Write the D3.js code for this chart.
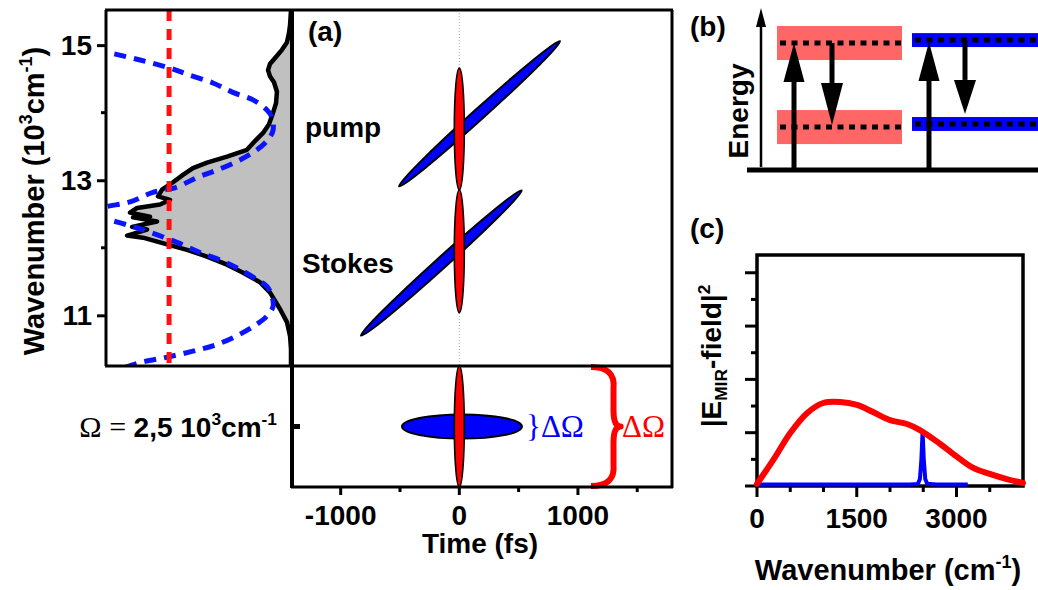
<!DOCTYPE html>
<html><head><meta charset="utf-8">
<script src="https://cdn.jsdelivr.net/npm/d3@7"></script>
<style>
html,body{margin:0;padding:0;background:#fff;}
svg{display:block;}
</style></head><body>
<svg id="c" width="1038" height="590"></svg>
<script>
// ---------------- DATA ----------------
// Left panel: laser spectrum (a.u., drawn leftwards) vs wavenumber (10^3 cm^-1)
const specWn = [15.52,15.30,15.18,15.04,14.93,14.81,14.72,14.63,14.54,14.45,14.31,14.14,14.00,13.83,13.70,13.58,13.45,13.35,13.26,13.18,13.08,12.96,12.86,12.76,12.71,12.64,12.59,12.52,12.46,12.45,12.39,12.31,12.27,12.18,12.15,12.05,11.97,11.87,11.75,11.63,11.49,11.34,11.09,10.90,10.69,10.50,10.25];
const specInt = [0,0.5,1.1,2.2,4.9,8.6,11.4,12.4,11.4,9.2,7.6,8.1,9.7,11.9,15.1,19.5,23.8,34.6,45.4,53.0,58.4,64.3,69.7,71.9,65.4,70.8,83.2,87.0,76.2,85.4,72.4,85.9,77.8,88.6,80.0,67.0,56.2,45.4,34.6,25.9,16.8,11.4,5.9,2.2,0.5,0,0];
// spectral phase (same horizontal axis): chirped pump / Stokes (blue), flat phase (red)
const pumpPhWn  = [14.94,14.90,14.78,14.66,14.57,14.44,14.30,14.19,14.04,13.93,13.74,13.60,13.45,13.30,13.15,13.04,12.90,12.82,12.68,12.61,12.56];
const pumpPhVal = [106,100,81.6,65.4,56.2,42.2,31.4,20.5,13.0,10.3,9.7,12.4,18.4,27.6,40.0,50.8,61.6,74.6,87.0,99.5,106];
const stokesPhWn  = [12.46,12.42,12.34,12.23,12.08,11.93,11.80,11.68,11.53,11.43,11.28,11.13,10.99,10.87,10.72,10.57,10.47,10.38,10.31,10.23];
const stokesPhVal = [106,99.5,88.6,76.2,61.6,49.2,36.8,27.6,18.4,13.0,10.3,9.7,13.0,18.4,27.6,40.0,53.0,67.0,80.0,89.7];
const flatPhVal = 65.9;
const wnTicks = [11, 13, 15];
const wnMinorTicks = [12, 14];

// Panel (a): time-frequency ellipses
const pulseLabels = ["pump", "Stokes"];
const chirpT0 = [-508, -829], chirpW0 = [12.91, 10.70];
const chirpT1 = [849, 526],   chirpW1 = [15.06, 12.85];
const tlCenterWn = [13.76, 11.95];
const tlHalfBand = [0.90, 0.91];
const timeTicks = [-1000, 0, 1000];
const timeMinorTicks = [-500, 500, 1500];
// MIR (difference frequency) row
const omegaMIR = 2.5;
const mirNarrowT = [-483, 528];
const mirNarrowBand = [2.0, 3.0];
const mirBroadBand = [0, 5];

// Panel (b): energy levels (a.u.)
const bandKinds = ["broad", "narrow"];
const levelLowE = [0.265, 0.284];
const levelHighE = [0.784, 0.802];
const bandHalfE = [0.105, 0.043];
const upArrowToE = [0.784, 0.790];
const downArrowFromE = [0.784, 0.802];
const downArrowToE = [0.278, 0.346];

// Panel (c): MIR spectra
const cWn = [0,250,500,755,995,1250,1505,1745,2000,2255,2450,2750,3005,3245,3500,3755,4000];
const cBroad = [0.012,0.15,0.298,0.411,0.467,0.473,0.456,0.416,0.371,0.349,0.315,0.238,0.165,0.103,0.068,0.039,0.017];
const cNarrowWn = [0,2300,2420,2450,2472,2490,2508,2530,2560,2700,3170];
const cNarrow = [0.008,0.008,0.012,0.04,0.15,0.306,0.15,0.04,0.012,0.008,0.008];
const cTicks = [0, 1500, 3000];
const cMinorTicks = [500, 1000, 2000, 2500, 3500];
const cYTicks = [0, 0.3, 0.6, 0.9, 1.2];
const cYMinor = [0.15, 0.45, 0.75, 1.05];

// ---------------- DRAW ----------------
const SANS = '"Liberation Sans", Arial, Helvetica, sans-serif';
const SERIF = '"Liberation Serif", "Times New Roman", Times, serif';
const FS = 28;
const svg = d3.select('#c');
svg.append('rect').attr('width',1038).attr('height',590).attr('fill','#fff');

function rich(sel, parts, size) {
  let shift = 0;
  parts.forEach(([t, type]) => {
    const target = type === 'sup' ? -0.40*size : type === 'sub' ? 0.22*size : 0;
    const ts = sel.append('tspan').text(t).attr('dy', target - shift);
    if (type) ts.attr('font-size', size*0.62);
    shift = target;
  });
}
function label(x, y, txt, opts={}) {
  const t = svg.append('text').attr('x', x).attr('y', y)
    .attr('font-family', opts.family || SANS)
    .attr('font-weight', opts.weight || 'bold')
    .attr('font-size', opts.size || FS)
    .attr('fill', opts.fill || '#000')
    .attr('text-anchor', opts.anchor || 'start');
  if (typeof txt === 'string') t.text(txt); else rich(t, txt, opts.size || FS);
  return t;
}

// scales
const wnY = d3.scaleLinear().domain([10.25, 15.52]).range([366, 10]);
const intX = d3.scaleLinear().domain([0, 100]).range([291, 106]);
const timeX = d3.scaleLinear().domain([-1402, 1793]).range([293, 672]);
const mirY = d3.scaleLinear().domain([0, 5]).range([487, 366]);
const cX = d3.scaleLinear().domain([0, 4000]).range([757, 1023]);
const cY = d3.scaleLinear().domain([0, 1.3]).range([486, 255]);
const eY = d3.scaleLinear().domain([0, 1]).range([170, 8]);
const bandX = d3.scaleBand().domain(bandKinds).range([777, 1037]).paddingInner(0.074);

const defs = svg.append('defs');
defs.append('clipPath').attr('id','clipL').append('rect')
  .attr('x',106).attr('y',10).attr('width',185).attr('height',356);
defs.append('clipPath').attr('id','clipA').append('rect')
  .attr('x',293).attr('y',10).attr('width',379).attr('height',477);

// ---- left spectrum panel ----
const gL = svg.append('g').attr('clip-path','url(#clipL)');
const spec = specWn.map((w,i)=>({w, v: specInt[i]}));
gL.append('path').datum(spec)
  .attr('d', d3.area().y(d=>wnY(d.w)).x0(intX(0)).x1(d=>intX(d.v)))
  .attr('fill','#c0c0c0');
gL.append('path').datum(spec)
  .attr('d', d3.line().y(d=>wnY(d.w)).x(d=>intX(d.v)))
  .attr('fill','none').attr('stroke','#000').attr('stroke-width',4.5).attr('stroke-linejoin','round');
const phLine = d3.line().y(d=>wnY(d.w)).x(d=>intX(d.v)).curve(d3.curveCatmullRom);
[[pumpPhWn,pumpPhVal],[stokesPhWn,stokesPhVal]].forEach(([ws,vs])=>{
  gL.append('path').datum(ws.map((w,i)=>({w, v: vs[i]})))
    .attr('d', phLine).attr('fill','none').attr('stroke','#0a14ff')
    .attr('stroke-width',5).attr('stroke-dasharray','12,8');
});
gL.append('line').attr('x1',intX(flatPhVal)).attr('x2',intX(flatPhVal))
  .attr('y1',wnY(15.52)).attr('y2',wnY(10.25))
  .attr('stroke','#ff1010').attr('stroke-width',5).attr('stroke-dasharray','11,8');

// left axis ticks
const axL = svg.append('g').attr('transform','translate(106,0)')
  .call(d3.axisLeft(wnY).tickValues(wnTicks).tickFormat(d3.format('d')).tickSize(9).tickPadding(5));
axL.select('.domain').remove();
axL.selectAll('line').attr('stroke-width',3);
axL.selectAll('text').attr('font-family',SANS).attr('font-weight','bold').attr('font-size',FS);
svg.append('g').selectAll('line').data(wnMinorTicks).join('line')
  .attr('x1',101).attr('x2',106).attr('y1',d=>wnY(d)).attr('y2',d=>wnY(d))
  .attr('stroke','#000').attr('stroke-width',3);

// y title
const yt = svg.append('text').attr('transform','translate(44,201) rotate(-90)')
  .attr('text-anchor','middle').attr('font-family',SANS).attr('font-weight','bold').attr('font-size',29);
rich(yt, [['Wavenumber (10',''],['3','sup'],['cm',''],['-1','sup'],[')','']], 29);

// ---- panel (a) ----
const gA = svg.append('g').attr('clip-path','url(#clipA)');
gA.append('line').attr('x1',timeX(0)).attr('x2',timeX(0)).attr('y1',10).attr('y2',366)
  .attr('stroke','#aaa').attr('stroke-width',1).attr('stroke-dasharray','1,2');

function ellipseBetween(g, xA, yA, xB, yB, ry, fill, sw) {
  const cx = (xA+xB)/2, cy = (yA+yB)/2;
  const rx = Math.hypot(xB-xA, yB-yA)/2;
  const ang = Math.atan2(yB-yA, xB-xA)*180/Math.PI;
  g.append('ellipse').attr('rx',rx).attr('ry',ry)
    .attr('transform',`translate(${cx},${cy}) rotate(${ang})`)
    .attr('fill',fill).attr('stroke','#000').attr('stroke-width',sw);
}
pulseLabels.forEach((p,i)=>{
  ellipseBetween(gA, timeX(chirpT0[i]), wnY(chirpW0[i]), timeX(chirpT1[i]), wnY(chirpW1[i]), 5.5, '#0000ff', 2);
});
pulseLabels.forEach((p,i)=>{
  ellipseBetween(gA, timeX(0), wnY(tlCenterWn[i]+tlHalfBand[i]), timeX(0), wnY(tlCenterWn[i]-tlHalfBand[i]), 5, '#ff0000', 1.6);
});
// MIR row
ellipseBetween(gA, timeX(mirNarrowT[0]), mirY(omegaMIR), timeX(mirNarrowT[1]), mirY(omegaMIR),
  (mirY(mirNarrowBand[0])-mirY(mirNarrowBand[1]))/2, '#0000ff', 2);
ellipseBetween(gA, timeX(0), mirY(mirBroadBand[1]), timeX(0), mirY(mirBroadBand[0]), 5, '#ff0000', 1.6);

// labels in (a)
label(308, 41, '(a)');
label(305, 137, pulseLabels[0]);
label(302, 273, pulseLabels[1]);

// braces & ΔΩ
label(526, mirY(omegaMIR)+10, '}ΔΩ', {family: SERIF, weight: 'normal', size: 31, fill: '#0000ff'});
{
  const xe = timeX(1110), xa = timeX(1300), xt = timeX(1360);
  const yt0 = mirY(mirBroadBand[1]), ym = mirY(omegaMIR), yb = mirY(mirBroadBand[0]);
  const p = `M${xe},${yt0+1} Q${xa+2},${yt0+1} ${xa},${yt0+22} L${xa},${ym-16} Q${xa},${ym} ${xt},${ym} Q${xa},${ym} ${xa},${ym+16} L${xa},${yb-22} Q${xa+2},${yb-1} ${xe},${yb-1}`;
  svg.append('path').attr('d',p).attr('fill','none').attr('stroke','#ff0000').attr('stroke-width',6).attr('stroke-linejoin','round');
}
label(622, mirY(omegaMIR)+10, 'ΔΩ', {family: SERIF, weight: 'normal', size: 31, fill: '#ff0000'});

// frames
const frame = svg.append('g').attr('stroke','#000').attr('fill','none');
frame.append('line').attr('x1',105).attr('x2',673).attr('y1',10).attr('y2',10).attr('stroke-width',3);
frame.append('line').attr('x1',105).attr('x2',673).attr('y1',366).attr('y2',366).attr('stroke-width',3);
frame.append('line').attr('x1',106).attr('x2',106).attr('y1',10).attr('y2',366).attr('stroke-width',3);
frame.append('line').attr('x1',292).attr('x2',292).attr('y1',10).attr('y2',488).attr('stroke-width',4);
frame.append('line').attr('x1',672).attr('x2',672).attr('y1',10).attr('y2',488).attr('stroke-width',3);
frame.append('line').attr('x1',291).attr('x2',673).attr('y1',487).attr('y2',487).attr('stroke-width',3);

// Ω tick + label
svg.append('line').attr('x1',291).attr('x2',300).attr('y1',mirY(omegaMIR)).attr('y2',mirY(omegaMIR))
  .attr('stroke','#000').attr('stroke-width',5);
{
  const t = svg.append('text').attr('x',277).attr('y',mirY(omegaMIR)+10).attr('text-anchor','end')
    .attr('font-family',SANS).attr('font-weight','bold').attr('font-size',28);
  t.append('tspan').attr('font-family',SERIF).attr('font-weight','normal').attr('font-size',30).text('Ω = ');
  rich(t, [['2,5 10',''],['3','sup'],['cm',''],['-1','sup']], 28);
}

// time axis
svg.append('g').selectAll('line').data(timeTicks).join('line')
  .attr('x1',d=>timeX(d)).attr('x2',d=>timeX(d)).attr('y1',487).attr('y2',495)
  .attr('stroke','#000').attr('stroke-width',3);
svg.append('g').selectAll('line').data(timeMinorTicks).join('line')
  .attr('x1',d=>timeX(d)).attr('x2',d=>timeX(d)).attr('y1',487).attr('y2',492)
  .attr('stroke','#000').attr('stroke-width',3);
svg.append('g').selectAll('text').data(timeTicks).join('text')
  .attr('x',d=>timeX(d)).attr('y',525).attr('text-anchor','middle')
  .attr('font-family',SANS).attr('font-weight','bold').attr('font-size',FS).text(d=>d);
label(480, 553, 'Time (fs)', {anchor:'middle'});

// ---- panel (b) ----
label(690, 36, '(b)');
const gB = svg.append('g');
bandKinds.forEach((k,i)=>{
  const col = i === 0 ? '#ff6666' : '#0000ff';
  [levelLowE[i], levelHighE[i]].forEach(E=>{
    gB.append('rect').attr('x',bandX(k)).attr('width', i===0 ? bandX.bandwidth() : bandX.bandwidth()+5)
      .attr('y', eY(E+bandHalfE[i])).attr('height', eY(E-bandHalfE[i]) - eY(E+bandHalfE[i]))
      .attr('fill', col);
  });
});
bandKinds.forEach((k,i)=>{
  [levelLowE[i], levelHighE[i]].forEach(E=>{
    gB.append('line').attr('x1',bandX(k)+3).attr('x2',bandX(k)+bandX.bandwidth()+4)
      .attr('y1',eY(E)).attr('y2',eY(E)).attr('stroke','#000').attr('stroke-width',5)
      .attr('stroke-dasharray','6,5.5');
  });
});
// energy axis
gB.append('line').attr('x1',761).attr('x2',761).attr('y1',eY(0)-3).attr('y2',eY(1)+16)
  .attr('stroke','#000').attr('stroke-width',2.5);
gB.append('path').attr('d',`M761,${eY(1)} L756,${eY(1)+19} L766,${eY(1)+19} Z`).attr('fill','#000');
gB.append('line').attr('x1',747).attr('x2',1038).attr('y1',eY(0)).attr('y2',eY(0))
  .attr('stroke','#000').attr('stroke-width',5);
function arrow(x, yFrom, yTo, headLen, headHalf) {
  const dir = Math.sign(yTo - yFrom);
  const yBase = yTo - dir*headLen;
  gB.append('line').attr('x1',x).attr('x2',x).attr('y1',yFrom).attr('y2',yBase)
    .attr('stroke','#000').attr('stroke-width',5);
  gB.append('path').attr('d',`M${x},${yTo} L${x-headHalf},${yBase} L${x+headHalf},${yBase} Z`).attr('fill','#000');
}
bandKinds.forEach((k,i)=>{
  const x0 = bandX(k);
  arrow(x0 + 0.136*bandX.bandwidth(), eY(0), eY(upArrowToE[i]), 39, 10.5);
  arrow(x0 + (i===0 ? 0.44 : 0.424)*bandX.bandwidth(), eY(downArrowFromE[i]), eY(downArrowToE[i]), i===0 ? 42 : 34, 11);
});
svg.append('text').attr('transform','translate(748,111) rotate(-90)').attr('text-anchor','middle')
  .attr('font-family',SANS).attr('font-weight','bold').attr('font-size',FS).text('Energy');

// ---- panel (c) ----
label(690, 238, '(c)');
svg.append('rect').attr('x',757).attr('y',255).attr('width',266).attr('height',231)
  .attr('fill','none').attr('stroke','#000').attr('stroke-width',3.5);
svg.append('g').selectAll('line').data(cYTicks).join('line')
  .attr('x1',745).attr('x2',757).attr('y1',d=>cY(d)).attr('y2',d=>cY(d)).attr('stroke','#000').attr('stroke-width',3);
svg.append('g').selectAll('line').data(cYMinor).join('line')
  .attr('x1',751).attr('x2',757).attr('y1',d=>cY(d)).attr('y2',d=>cY(d)).attr('stroke','#000').attr('stroke-width',3);
svg.append('g').selectAll('line').data(cTicks).join('line')
  .attr('x1',d=>cX(d)).attr('x2',d=>cX(d)).attr('y1',486).attr('y2',497).attr('stroke','#000').attr('stroke-width',3);
svg.append('g').selectAll('line').data(cMinorTicks).join('line')
  .attr('x1',d=>cX(d)).attr('x2',d=>cX(d)).attr('y1',486).attr('y2',492).attr('stroke','#000').attr('stroke-width',3);
svg.append('g').selectAll('text').data(cTicks).join('text')
  .attr('x',d=>cX(d)).attr('y',528).attr('text-anchor','middle')
  .attr('font-family',SANS).attr('font-weight','bold').attr('font-size',FS).text(d=>d);
svg.append('path').datum(cNarrowWn.map((w,i)=>({w, v:cNarrow[i]})))
  .attr('d', d3.line().x(d=>cX(d.w)).y(d=>cY(d.v)))
  .attr('fill','none').attr('stroke','#0000ff').attr('stroke-width',4).attr('stroke-linejoin','round');
svg.append('path').datum(cWn.map((w,i)=>({w, v:cBroad[i]})))
  .attr('d', d3.line().x(d=>cX(d.w)).y(d=>cY(d.v)).curve(d3.curveCatmullRom))
  .attr('fill','none').attr('stroke','#ff0000').attr('stroke-width',6).attr('stroke-linecap','round');
{
  const t = svg.append('text').attr('x',888).attr('y',580).attr('text-anchor','middle')
    .attr('font-family',SANS).attr('font-weight','bold').attr('font-size',29);
  rich(t, [['Wavenumber (cm',''],['-1','sup'],[')','']], 29);
  const t2 = svg.append('text').attr('transform','translate(721,356) rotate(-90)').attr('text-anchor','middle')
    .attr('font-family',SANS).attr('font-weight','bold').attr('font-size',FS);
  rich(t2, [['|E',''],['MIR','sub'],['-field|',''],['2','sup']], FS);
}
</script></body></html>
